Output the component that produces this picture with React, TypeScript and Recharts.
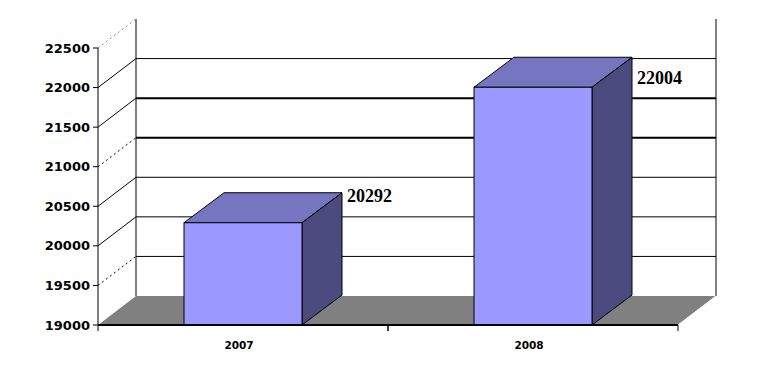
import React from 'react';
import { BarChart, Bar, XAxis, YAxis, CartesianGrid } from 'recharts';

const years = ['2007', '2008'];
const amounts = [20292, 22004];
const yTicks = [19000, 19500, 20000, 20500, 21000, 21500, 22000, 22500];

const data = years.map((year, i) => ({ year, amount: amounts[i] }));

// depth of the walls / floor and of the boxes
const WALL_DX = 38;
const WALL_DY = -29;
const BAR_DX = 40;
const BAR_DY = -30;

const Box3D = (props: any) => {
  const { x, y, width, height, payload } = props;
  if (width == null || height == null) return null;
  const r = x + width;
  const b = y + height;
  // excel puts the label a bit lower the taller the bar is
  const labelY = 0.868 * y + 2.6 + 6;
  return (
    <g>
      <polygon
        points={`${x},${y} ${x + BAR_DX},${y + BAR_DY} ${r + BAR_DX},${y + BAR_DY} ${r},${y}`}
        fill="#7575c0"
        stroke="#000"
        strokeWidth={1}
      />
      <polygon
        points={`${r},${y} ${r + BAR_DX},${y + BAR_DY} ${r + BAR_DX},${b + BAR_DY} ${r},${b}`}
        fill="#4b4b7f"
        stroke="#000"
        strokeWidth={1}
      />
      <rect x={x} y={y} width={width} height={height} fill="#9999ff" stroke="#000" strokeWidth={1} />
      <text
        x={r + 45}
        y={labelY}
        fill="#000"
        fontFamily="'Liberation Serif', serif"
        fontWeight="bold"
        fontSize={18}
      >
        {payload.amount}
      </text>
    </g>
  );
};

const renderGridLine = (props: any) => {
  const { x1, y1, x2, x, y, width, height } = props;
  const bottom = y + height;
  const step = height / (yTicks.length - 1);
  const k = Math.round((bottom - y1) / step);
  const isBottom = k === 0;
  const isTop = k === yTicks.length - 1;
  const thick = k === 4 || k === 5;
  const dotted = k === 1 || k === 4 || isTop;

  return (
    <g key={`grid-${k}`}>
      {isBottom && (
        <g>
          <line x1={x + WALL_DX} y1={y + WALL_DY} x2={x + WALL_DX} y2={bottom + WALL_DY} stroke="#808080" strokeWidth={2} />
          <line
            x1={x + width + WALL_DX}
            y1={y + WALL_DY}
            x2={x + width + WALL_DX}
            y2={bottom + WALL_DY}
            stroke="#808080"
            strokeWidth={2}
          />
          <polygon
            points={`${x},${bottom} ${x + width},${bottom} ${x + width + WALL_DX},${bottom + WALL_DY} ${x + WALL_DX},${bottom + WALL_DY}`}
            fill="#808080"
          />
          <line x1={x + width} y1={bottom} x2={x + width + WALL_DX} y2={bottom + WALL_DY} stroke="#fff" strokeWidth={1} />
        </g>
      )}
      {!isBottom && !isTop && (
        <line
          x1={x1 + WALL_DX}
          y1={y1 + WALL_DY}
          x2={x2 + WALL_DX}
          y2={y1 + WALL_DY}
          stroke="#000"
          strokeWidth={thick ? 2 : 1}
        />
      )}
      {!isBottom && (
        <line
          x1={x1}
          y1={y1}
          x2={x1 + WALL_DX}
          y2={y1 + WALL_DY}
          stroke={isTop ? '#888' : '#000'}
          strokeWidth={1}
          strokeDasharray={dotted ? '2 3' : undefined}
        />
      )}
    </g>
  );
};

const XTick = (props: any) => {
  const { x, y, payload, width } = props;
  const half = payload && payload.offset ? payload.offset : width / years.length / 2;
  return (
    <g>
      <line x1={x - half} y1={y - 8} x2={x - half} y2={y - 2} stroke="#000" />
      <line x1={x + half} y1={y - 8} x2={x + half} y2={y - 2} stroke="#000" />
      <text
        x={x - 4}
        y={y + 16}
        textAnchor="middle"
        fill="#000"
        fontFamily="'DejaVu Sans', sans-serif"
        fontWeight="bold"
        fontSize={10.5}
      >
        {payload.value}
      </text>
    </g>
  );
};

export default function App() {
  return (
    <div style={{ position: 'absolute', left: 0, top: 0, width: 758, height: 386, background: '#fff' }}>
      <BarChart width={758} height={386} data={data} margin={{ top: 48, right: 80, bottom: 31, left: 38 }}>
        <CartesianGrid vertical={false} horizontal={renderGridLine} />
        <XAxis
          dataKey="year"
          height={30}
          axisLine={{ stroke: '#000', strokeWidth: 2 }}
          tickLine={false}
          tickSize={6}
          tickMargin={2}
          tick={<XTick />}
        />
        <YAxis
          width={60}
          domain={[19000, 22500]}
          ticks={yTicks}
          allowDataOverflow
          axisLine={{ stroke: '#000', strokeWidth: 1 }}
          tickLine={{ stroke: '#000' }}
          tickSize={5}
          tickMargin={3}
          tick={{ fill: '#000', fontSize: 13, fontWeight: 'bold', fontFamily: "'DejaVu Sans', sans-serif" }}
        />
        <Bar dataKey="amount" barSize={118} shape={Box3D} isAnimationActive={false} />
      </BarChart>
    </div>
  );
}
